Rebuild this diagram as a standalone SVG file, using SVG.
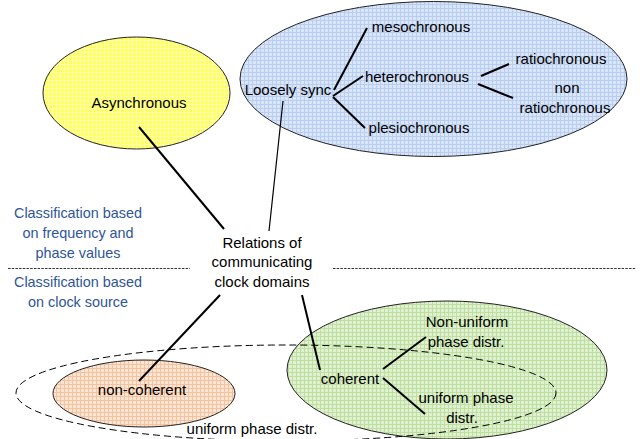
<svg xmlns="http://www.w3.org/2000/svg" width="640" height="439" viewBox="0 0 640 439">
<style>
text{font-family:"Liberation Sans",Arial,sans-serif;font-size:15px;fill:#000}
.c{text-anchor:middle}
.blue{fill:#2F5597;font-size:14.4px}
.node{stroke:#222;stroke-width:1}
.ln{stroke:#000;stroke-width:2;fill:none}
.thin{stroke:#000;stroke-width:1.2;fill:none}
.dot{stroke:#333;stroke-width:1;stroke-dasharray:2.5 1.2}
</style>
<defs>
<pattern id="py" width="4" height="4" patternUnits="userSpaceOnUse"><rect width="4" height="4" fill="#FFFF60"/><path d="M0.5 0V4M0 0.5H4" stroke="#FFFFB0" stroke-width="1"/></pattern>
<pattern id="pb" width="4" height="4" patternUnits="userSpaceOnUse"><rect width="4" height="4" fill="#D9E5F8"/><path d="M0.5 0V4M0 0.5H4" stroke="#B8CDF0" stroke-width="1"/></pattern>
<pattern id="po" width="4" height="4" patternUnits="userSpaceOnUse"><rect width="4" height="4" fill="#FCE5D5"/><path d="M0.5 0V4M0 0.5H4" stroke="#F5C29E" stroke-width="1"/></pattern>
<pattern id="pg" width="4" height="4" patternUnits="userSpaceOnUse"><rect width="4" height="4" fill="#E0F0D2"/><path d="M0.5 0V4M0 0.5H4" stroke="#BEDF9E" stroke-width="1"/></pattern>
</defs>
<rect width="640" height="439" fill="#fff"/>

<g id="asynchronous">
<ellipse cx="136.5" cy="93" rx="93.5" ry="56" fill="url(#py)" class="node"/>
<text x="139" y="108" class="c">Asynchronous</text>
</g>

<g id="loosely-sync">
<ellipse cx="433.5" cy="79" rx="193.5" ry="77.5" fill="url(#pb)" class="node"/>
<text x="288" y="95" class="c">Loosely sync</text>
</g>
<g id="mesochronous"><text x="421" y="32" class="c">mesochronous</text></g>
<g id="heterochronous"><text x="417" y="82" class="c">heterochronous</text></g>
<g id="plesiochronous"><text x="419" y="133" class="c">plesiochronous</text></g>
<g id="ratiochronous"><text x="561" y="64" class="c">ratiochronous</text></g>
<g id="non-ratiochronous"><text x="567" y="93" class="c">non</text><text x="565" y="113" class="c">ratiochronous</text></g>

<g id="classification-freq">
<text x="78" y="218" class="c blue">Classification based</text>
<text x="78" y="238" class="c blue">on frequency and</text>
<text x="78" y="258" class="c blue">phase values</text>
</g>
<g id="classification-source">
<text x="78" y="287" class="c blue">Classification based</text>
<text x="78" y="307" class="c blue">on clock source</text>
</g>
<g id="separator">
<line x1="8" y1="268.5" x2="190" y2="268.5" class="dot"/>
<line x1="333" y1="268.5" x2="636" y2="268.5" class="dot"/>
</g>

<g id="relations">
<text x="262" y="248" class="c">Relations of</text>
<text x="262" y="267" class="c">communicating</text>
<text x="262" y="287" class="c">clock domains</text>
</g>

<g id="coherent">
<ellipse cx="447" cy="370" rx="160" ry="69" fill="url(#pg)" class="node"/>
<text x="350" y="384" class="c">coherent</text>
</g>
<g id="non-uniform"><text x="467" y="327" class="c">Non-uniform</text><text x="466" y="347" class="c">phase distr.</text></g>
<g id="uniform"><text x="466" y="403" class="c">uniform phase</text><text x="462" y="423" class="c">distr.</text></g>

<g id="non-coherent">
<ellipse cx="144" cy="393.5" rx="91" ry="33.5" fill="url(#po)" class="node"/>
<text x="142" y="395" class="c">non-coherent</text>
</g>

<g id="uniform-phase-group">
<ellipse cx="286" cy="393" rx="270" ry="48" fill="none" stroke="#000" stroke-width="1" stroke-dasharray="7 4"/>
<text x="252" y="434" class="c">uniform phase distr.</text>
</g>

<g id="connectors">
<line x1="334" y1="90" x2="367" y2="28" class="ln"/>
<line x1="333" y1="96" x2="363" y2="76" class="ln"/>
<line x1="333" y1="97" x2="365" y2="128" class="ln"/>
<line x1="481" y1="76" x2="509" y2="64" class="ln"/>
<line x1="478" y1="84" x2="513" y2="98" class="ln"/>
<line x1="283" y1="101" x2="269" y2="231" class="thin"/>
<line x1="139" y1="127" x2="224" y2="229" class="ln"/>
<line x1="220" y1="295" x2="139" y2="381" class="ln"/>
<line x1="302" y1="295" x2="320" y2="370" class="ln"/>
<line x1="383" y1="369" x2="426" y2="337" class="ln"/>
<line x1="383" y1="378" x2="425" y2="414" class="ln"/>
</g>
</svg>
